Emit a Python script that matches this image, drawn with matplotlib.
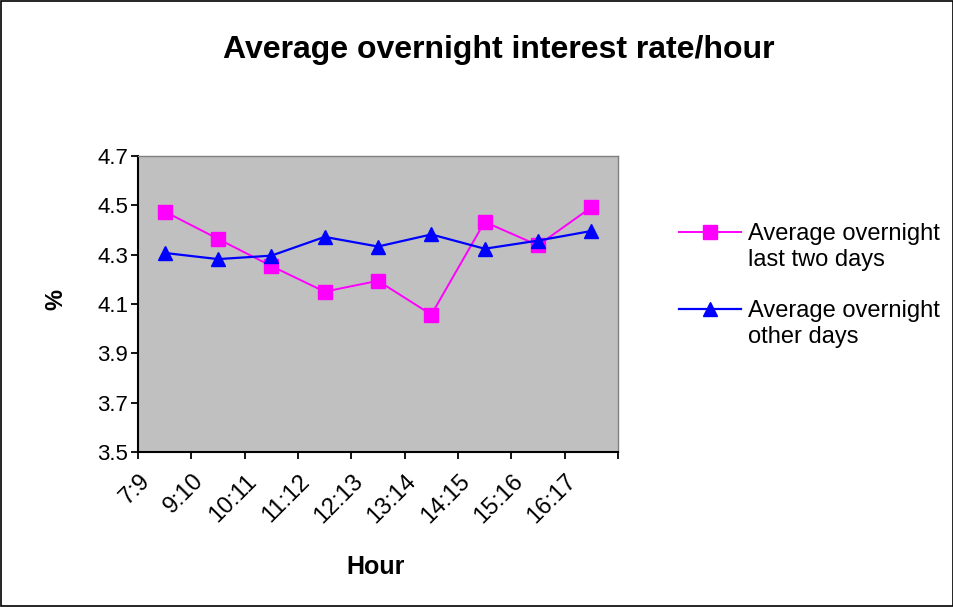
import numpy as np
import matplotlib.pyplot as plt
from matplotlib.patches import Rectangle
from matplotlib.lines import Line2D
from matplotlib.transforms import ScaledTranslation

plt.rcParams['font.family'] = ['Liberation Sans', 'DejaVu Sans']

hours = ['7:9', '9:10', '10:11', '11:12', '12:13', '13:14', '14:15', '15:16', '16:17']
last_two_days = [4.475, 4.364, 4.254, 4.150, 4.194, 4.057, 4.433, 4.338, 4.492]
other_days = [4.307, 4.282, 4.296, 4.372, 4.333, 4.382, 4.324, 4.357, 4.396]
yticks = [3.5, 3.7, 3.9, 4.1, 4.3, 4.5, 4.7]

fig = plt.figure(figsize=(9.54, 6.07), dpi=100)
fig.patches.append(Rectangle((0.001, 0.001), 0.998, 0.997, transform=fig.transFigure,
                             fill=False, edgecolor='black', linewidth=1.2))

ax = fig.add_axes([138/954, 1 - 452/607, 480/954, 296/607])
ax.set_facecolor('#c0c0c0')

x = np.arange(len(hours)) + 0.5
l1, = ax.plot(x, last_two_days, color='#ff00ff', marker='s', markersize=9.5, linewidth=1.4)
l2, = ax.plot(x, other_days, color='#0000ff', marker='^', markersize=10, linewidth=1.6)

ax.set_xlim(0, len(hours))
ax.set_ylim(3.5, 4.7)
ax.set_yticks(yticks)
ax.set_yticklabels(['%.1f' % v for v in yticks])
ax.set_xticks(np.arange(len(hours) + 1))
ax.set_xticklabels([])
ax.set_xticks(x, minor=True)
ax.set_xticklabels(hours, minor=True, rotation=45, ha='right', va='top',
                   rotation_mode='anchor', fontsize=17)
ax.tick_params(axis='x', which='minor', length=0, pad=0)
ax.tick_params(axis='both', which='major', direction='out', length=5, width=1.3,
               labelsize=16, color='black', pad=2)
shift = ScaledTranslation(-0.26, -0.18, fig.dpi_scale_trans)
for lab in ax.get_xticklabels(minor=True):
    lab.set_transform(lab.get_transform() + shift)

for s in ['top', 'right']:
    ax.spines[s].set_color('#808080')
    ax.spines[s].set_linewidth(1)
for s in ['left', 'bottom']:
    ax.spines[s].set_color('black')
    ax.spines[s].set_linewidth(1.5)

fig.text(56/954, 1 - 300/607, '%', rotation=90, ha='center', va='center',
         fontsize=17, fontweight='bold')
fig.text(376/954, 1 - 567/607, 'Hour', ha='center', va='center',
         fontsize=18, fontweight='bold')
fig.text(499/954, 1 - 50/607, 'Average overnight interest rate/hour', ha='center',
         va='center', fontsize=23, fontweight='bold')

blank = Line2D([], [], linestyle='none')
for handle, lines, ytop in [(l1, ['Average overnight', 'last two days'], 214),
                            (l2, ['Average overnight', 'other days'], 291)]:
    leg = fig.legend([handle, blank], lines, loc='upper left',
                     bbox_to_anchor=(670/954, 1 - ytop/607), frameon=False,
                     fontsize=17, handlelength=2.6, labelspacing=0.15,
                     handletextpad=0.3, borderaxespad=0, borderpad=0.4)

fig.savefig('out.png', dpi=100)
